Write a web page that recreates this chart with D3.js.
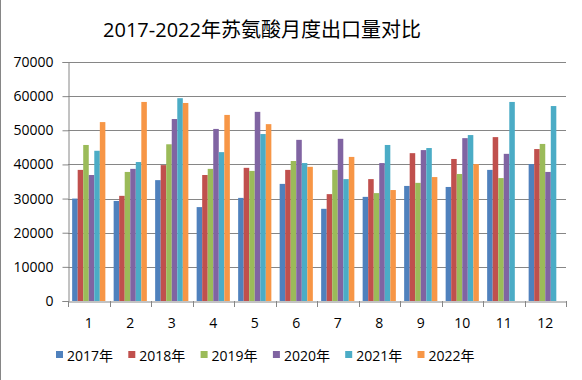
<!DOCTYPE html>
<html><head><meta charset="utf-8">
<script src="https://cdn.jsdelivr.net/npm/d3@7"></script>
<style>
html,body{margin:0;padding:0;background:#fff;}
svg{display:block;font-family:"Open Sans","Noto Sans CJK SC",sans-serif;}
</style></head>
<body>
<svg id="c" width="582" height="380"></svg>
<script>
const months = ["1","2","3","4","5","6","7","8","9","10","11","12"];
const seriesNames = ["2017年","2018年","2019年","2020年","2021年","2022年"];
const colors = ["#4F81BD","#C0504D","#9BBB59","#8064A2","#4BACC6","#F79646"];
const v2017 = [30000,29300,35400,27500,30200,34300,27000,30500,33700,33400,38400,40100];
const v2018 = [38400,30800,39800,36900,39000,38400,31300,35700,43300,41600,48000,44500];
const v2019 = [45700,37800,45900,38700,38100,41000,38400,31600,34600,37200,36000,46000];
const v2020 = [36900,38700,53300,50400,55400,47200,47500,40400,44200,47700,43100,37800];
const v2021 = [44000,40700,59400,43600,48900,40400,35700,45700,44800,48600,58300,57100];
const v2022 = [52400,58300,58000,54500,51800,39300,42200,32500,36300,40100,null,null];
const allSeries = [v2017,v2018,v2019,v2020,v2021,v2022];
const yTicks = [0,10000,20000,30000,40000,50000,60000,70000];

const FONT = "'Open Sans','Noto Sans CJK SC',sans-serif";
const svg = d3.select("#c");
const L = 68, R = 566, T = 62, B = 301;

// chart border (left edge)
svg.append("line").attr("x1",0.5).attr("x2",0.5).attr("y1",0).attr("y2",380)
  .attr("stroke","#868686").attr("stroke-width",1);

const x = d3.scaleBand().domain(months).range([L,R]).paddingInner(0.2).paddingOuter(0.1);
const xCat = d3.scaleBand().domain(months).range([L,R]);
const xs = d3.scaleBand().domain(seriesNames).range([0,x.bandwidth()]);
const y = d3.scaleLinear().domain([0,70000]).range([B,T]);

// gridlines
svg.append("g").selectAll("line").data(yTicks.filter(d=>d>0)).join("line")
  .attr("x1",L).attr("x2",R)
  .attr("y1",d=>Math.round(y(d))+0.5).attr("y2",d=>Math.round(y(d))+0.5)
  .attr("stroke","#868686").attr("stroke-width",1);

// bars
const g = svg.append("g");
allSeries.forEach((vals,si)=>{
  g.append("g").selectAll("rect")
    .data(vals.map((v,i)=>({m:months[i],v})).filter(d=>d.v!=null))
    .join("rect")
    .attr("x",d=>x(d.m)+xs(seriesNames[si]))
    .attr("width",xs.bandwidth())
    .attr("y",d=>y(d.v))
    .attr("height",d=>B-y(d.v))
    .attr("fill",colors[si]);
});

// y axis
const yAxis = d3.axisLeft(y).tickValues(yTicks).tickSize(6).tickPadding(9).tickFormat(d3.format("d"));
const ya = svg.append("g").attr("transform",`translate(${L+0.5},0)`).call(yAxis);
ya.select(".domain").attr("stroke","#868686");
ya.selectAll(".tick line").attr("stroke","#868686");
ya.selectAll(".tick text").attr("font-size",14).attr("fill","#000").attr("font-family",FONT);

// x axis
const xAxis = d3.axisBottom(xCat).tickSize(0).tickPadding(17);
const xa = svg.append("g").attr("transform",`translate(0,${B+0.5})`).call(xAxis);
xa.select(".domain").attr("stroke","#868686");
xa.selectAll(".tick text").attr("font-size",14).attr("fill","#000").attr("font-family",FONT);
// category boundary ticks
const bounds = months.map(m=>xCat(m)).concat([R]);
svg.append("g").selectAll("line").data(bounds).join("line")
  .attr("x1",d=>Math.round(d)+0.5).attr("x2",d=>Math.round(d)+0.5)
  .attr("y1",B).attr("y2",B+6).attr("stroke","#868686");

// title
svg.append("text").attr("x",262).attr("y",37).attr("text-anchor","middle")
  .attr("font-size",20).attr("fill","#000").text("2017-2022年苏氨酸月度出口量对比");

// legend
const leg = svg.append("g");
seriesNames.forEach((n,i)=>{
  const lx = 56 + i*72.3;
  leg.append("rect").attr("x",lx).attr("y",351).attr("width",7).attr("height",7).attr("fill",colors[i]);
  leg.append("text").attr("x",lx+11).attr("y",361).attr("font-size",14).attr("fill","#000").text(n);
});
</script>
</body></html>
